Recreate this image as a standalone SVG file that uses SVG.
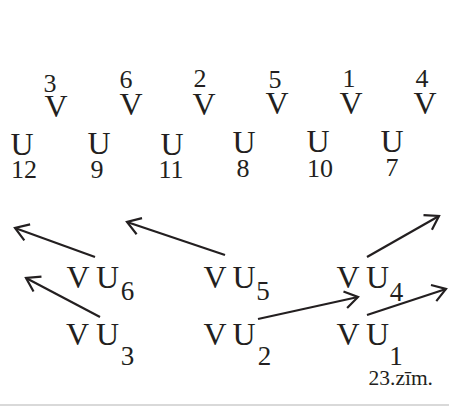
<svg xmlns="http://www.w3.org/2000/svg" width="449" height="406" viewBox="0 0 449 406">
<style>
.t{font-family:"Liberation Serif","Times New Roman",serif;fill:#231f20}
.L{font-size:32px}
.n{font-size:26px}
.s{font-size:27px}
.m{text-anchor:middle}
.a{stroke:#231f20;stroke-width:2.2;fill:none}
</style>
<defs>
<marker id="ah" markerUnits="userSpaceOnUse" markerWidth="30" markerHeight="30" viewBox="-20 -15 30 30" refX="0" refY="0" orient="auto" overflow="visible">
<path d="M-13,-8.5 L0,0 L-13,8.5" fill="none" stroke="#231f20" stroke-width="2.2"/>
</marker>
</defs>
<rect width="449" height="406" fill="#fff"/>
<g id="top-row" class="t m">
<text class="n" x="50" y="92">3</text><text class="L" x="56" y="116.7">V</text>
<text class="n" x="126" y="88">6</text><text class="L" x="131" y="115">V</text>
<text class="n" x="200" y="87">2</text><text class="L" x="204" y="115">V</text>
<text class="n" x="275" y="88">5</text><text class="L" x="277" y="113.5">V</text>
<text class="n" x="349" y="87">1</text><text class="L" x="351" y="113.5">V</text>
<text class="n" x="422" y="87">4</text><text class="L" x="425" y="113.5">V</text>
</g>
<g id="u-row" class="t m">
<text class="L" x="22" y="155">U</text><text class="n" x="24" y="178">12</text>
<text class="L" x="99" y="153.5">U</text><text class="n" x="97" y="178">9</text>
<text class="L" x="172" y="155">U</text><text class="n" x="171" y="178">11</text>
<text class="L" x="244" y="153">U</text><text class="n" x="243" y="177">8</text>
<text class="L" x="318" y="152">U</text><text class="n" x="320" y="177">10</text>
<text class="L" x="392" y="152">U</text><text class="n" x="392" y="175.5">7</text>
</g>
<g id="VU6" class="t m"><text class="L" x="78" y="288">V</text><text class="L" x="107.5" y="288">U</text><text class="s" x="127.5" y="300">6</text></g>
<g id="VU5" class="t m"><text class="L" x="215" y="288">V</text><text class="L" x="244" y="288">U</text><text class="s" x="263" y="300">5</text></g>
<g id="VU4" class="t m"><text class="L" x="348" y="288">V</text><text class="L" x="377.5" y="288">U</text><text class="s" x="396.5" y="301">4</text></g>
<g id="VU3" class="t m"><text class="L" x="77.5" y="345">V</text><text class="L" x="107.5" y="345">U</text><text class="s" x="127.5" y="365">3</text></g>
<g id="VU2" class="t m"><text class="L" x="215" y="345">V</text><text class="L" x="244" y="345">U</text><text class="s" x="264.5" y="365">2</text></g>
<g id="VU1" class="t m"><text class="L" x="348" y="345">V</text><text class="L" x="377.5" y="345">U</text><text class="s" x="396" y="365">1</text></g>
<g id="connectors" class="a">
<line x1="95" y1="257" x2="15" y2="228" marker-end="url(#ah)"/>
<line x1="225" y1="255" x2="127" y2="222" marker-end="url(#ah)"/>
<line x1="367" y1="257" x2="439" y2="216" marker-end="url(#ah)"/>
<line x1="100" y1="317" x2="26" y2="278" marker-end="url(#ah)"/>
<line x1="258" y1="319" x2="358" y2="297" marker-end="url(#ah)"/>
<line x1="367" y1="315" x2="446" y2="289" marker-end="url(#ah)"/>
</g>
<text id="caption" class="t" x="433" y="385" font-size="21.5" text-anchor="end">23.zīm.</text>
<line x1="0" y1="405" x2="449" y2="405" stroke="#b4b4b4" stroke-width="1.2"/>
</svg>
